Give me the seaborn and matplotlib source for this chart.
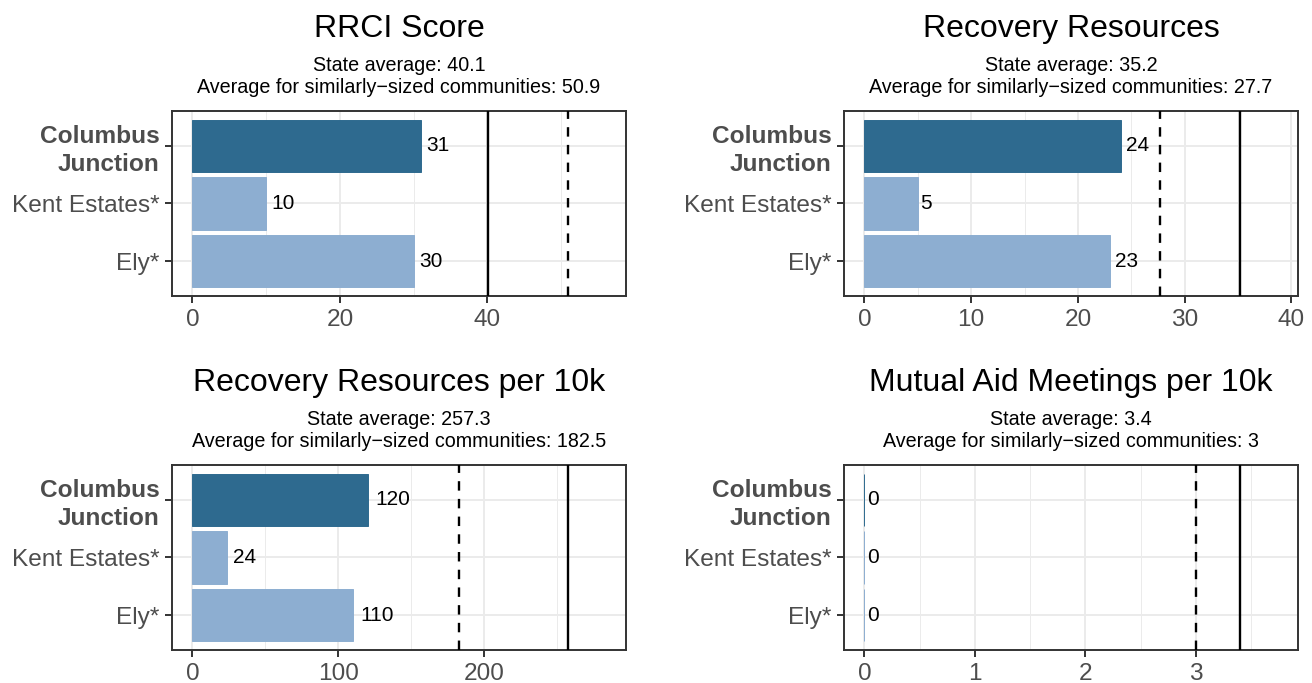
import matplotlib.pyplot as plt
import matplotlib.ticker as mticker
import pandas as pd
import seaborn as sns

# data
communities = ['Columbus\nJunction', 'Kent Estates*', 'Ely*']
titles = ['RRCI Score', 'Recovery Resources', 'Recovery Resources per 10k',
          'Mutual Aid Meetings per 10k']
rrci = [31, 10, 30]
resources = [24, 5, 23]
resources_10k = [120, 24, 110]
meetings_10k = [0, 0, 0]
state_avg = [40.1, 35.2, 257.3, 3.4]
similar_avg = [50.9, 27.7, 182.5, 3.0]

sns.set_style('ticks')
plt.rcParams['font.family'] = ['Liberation Sans', 'DejaVu Sans']

dark = '#2E6A8F'
light = '#8DAED1'
palette = {communities[0]: dark, communities[1]: light, communities[2]: light}
steps = [20, 10, 100, 1]
# axes boxes (left, bottom, width, height) in figure fractions
boxes = [[0.1309, 0.5666, 0.3463, 0.2709], [0.6431, 0.5666, 0.3465, 0.2709],
         [0.1309, 0.0483, 0.3463, 0.2709], [0.6431, 0.0483, 0.3465, 0.2709]]

fig = plt.figure(figsize=(13.12, 6.83), dpi=100)
series = [rrci, resources, resources_10k, meetings_10k]

for i, vals in enumerate(series):
    ax = fig.add_axes(boxes[i])
    df = pd.DataFrame({'community': communities, 'value': vals})
    sns.barplot(data=df, x='value', y='community', hue='community', palette=palette,
                legend=False, width=0.9, saturation=1, orient='h', ax=ax)
    for p in ax.patches:
        p.set_edgecolor(p.get_facecolor())
        p.set_linewidth(0.7)

    ax.axvline(state_avg[i], color='black', lw=1.7, zorder=3)
    ax.axvline(similar_avg[i], color='black', lw=1.7, ls=(0, (4, 3.5)), zorder=3)

    upper = max(max(vals), state_avg[i], similar_avg[i]) * 1.1
    ax.set_xlim(-0.05 * upper, 1.05 * upper)
    ax.set_ylim(2.6, -0.6)

    # value labels
    for j, v in enumerate(vals):
        lab = str(v)
        ax.annotate(lab, xy=(v, j), xytext=(1.9 * len(lab), 0), textcoords='offset points',
                    ha='left', va='center', fontsize=15, color='black', zorder=4)

    ax.xaxis.set_major_locator(mticker.MultipleLocator(steps[i]))
    ax.xaxis.set_minor_locator(mticker.MultipleLocator(steps[i] / 2))
    ax.set_axisbelow(True)
    ax.grid(which='major', color='#EBEBEB', lw=1.4)
    ax.grid(which='minor', axis='x', color='#EBEBEB', lw=0.7)
    ax.tick_params(axis='both', which='major', length=4.8, width=1.4, color='#333333',
                   labelsize=17.6, labelcolor='#4D4D4D', bottom=True, left=True)
    ax.tick_params(axis='y', pad=3.8)
    ax.tick_params(axis='x', pad=4.4)
    ax.tick_params(which='minor', length=0)
    for s in ax.spines.values():
        s.set_visible(True)
        s.set_color('#333333')
        s.set_linewidth(1.4)
    ax.set_xlabel('')
    ax.set_ylabel('')
    ax.set_yticks(range(len(communities)), labels=communities)
    first = ax.get_yticklabels()[0]
    first.set_fontweight('bold')
    first.set_linespacing(1.25)

    ax.annotate(titles[i], xy=(0.5, 1), xycoords='axes fraction', xytext=(0, 53.5),
                textcoords='offset points', ha='center', va='baseline', fontsize=23,
                color='black')
    ax.annotate(f'State average: {state_avg[i]:g}', xy=(0.5, 1), xycoords='axes fraction',
                xytext=(0, 28.8), textcoords='offset points', ha='center', va='baseline',
                fontsize=14.2, color='black')
    ax.annotate(f'Average for similarly\u2212sized communities: {similar_avg[i]:g}',
                xy=(0.5, 1), xycoords='axes fraction', xytext=(0, 13.2),
                textcoords='offset points', ha='center', va='baseline', fontsize=14.2,
                color='black')

fig.savefig('out.png', dpi=100)
